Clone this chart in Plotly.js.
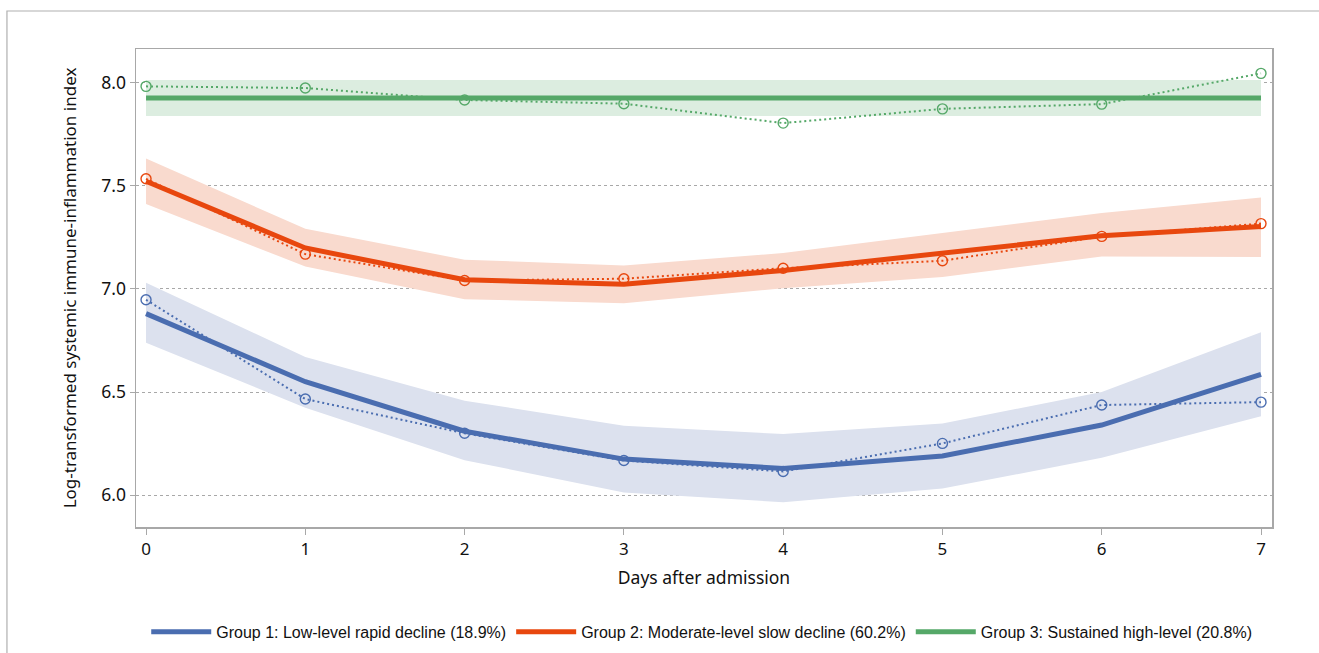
<!DOCTYPE html>
<html>
<head>
<meta charset="utf-8">
<script src="https://cdn.plot.ly/plotly-3.0.1.min.js"></script>
<style>
html,body{margin:0;padding:0;background:#fff;}
#chart{width:1319px;height:653px;}
</style>
</head>
<body>
<div id="chart"></div>
<script>
// ---- data ----
const days = [0, 1, 2, 3, 4, 5, 6, 7];

const g1Name = "Group 1: Low-level rapid decline (18.9%)";
const g1Fitted   = [6.88, 6.55, 6.31, 6.175, 6.13, 6.19, 6.34, 6.585];
const g1Observed = [6.947, 6.466, 6.30, 6.168, 6.115, 6.251, 6.437, 6.451];
const g1Upper    = [7.03, 6.67, 6.458, 6.337, 6.296, 6.348, 6.50, 6.79];
const g1Lower    = [6.739, 6.424, 6.17, 6.013, 5.966, 6.032, 6.181, 6.383];

const g2Name = "Group 2: Moderate-level slow decline (60.2%)";
const g2Fitted   = [7.521, 7.198, 7.044, 7.022, 7.089, 7.17, 7.257, 7.302];
const g2Observed = [7.533, 7.168, 7.04, 7.049, 7.10, 7.136, 7.254, 7.316];
const g2Upper    = [7.631, 7.291, 7.141, 7.113, 7.173, 7.27, 7.367, 7.443];
const g2Lower    = [7.411, 7.108, 6.95, 6.93, 7.003, 7.057, 7.157, 7.154];

const g3Name = "Group 3: Sustained high-level (20.8%)";
const g3Fitted   = [7.925, 7.925, 7.925, 7.925, 7.925, 7.925, 7.925, 7.925];
const g3Observed = [7.981, 7.973, 7.915, 7.897, 7.803, 7.872, 7.895, 8.044];
const g3Upper    = [8.012, 8.012, 8.012, 8.012, 8.012, 8.012, 8.012, 8.012];
const g3Lower    = [7.837, 7.837, 7.837, 7.837, 7.837, 7.837, 7.837, 7.837];

const yTicks = [6.0, 6.5, 7.0, 7.5, 8.0];
const yTickText = ["6.0", "6.5", "7.0", "7.5", "8.0"];

// ---- styles ----
const groups = [
  {name: g1Name, fit: g1Fitted, obs: g1Observed, up: g1Upper, lo: g1Lower, color: "#4a6db0", band: "#dce1ee"},
  {name: g2Name, fit: g2Fitted, obs: g2Observed, up: g2Upper, lo: g2Lower, color: "#e8470e", band: "#f9dace"},
  {name: g3Name, fit: g3Fitted, obs: g3Observed, up: g3Upper, lo: g3Lower, color: "#55a868", band: "#dcede0"}
];

const traces = [];
groups.forEach(g => {
  traces.push({x: days, y: g.lo, mode: "lines", line: {width: 0, color: g.band}, showlegend: false, hoverinfo: "skip"});
  traces.push({x: days, y: g.up, mode: "lines", line: {width: 0, color: g.band}, fill: "tonexty", fillcolor: g.band, showlegend: false, hoverinfo: "skip"});
});
groups.forEach(g => {
  traces.push({x: days, y: g.obs, mode: "lines+markers", line: {width: 2, color: g.color, dash: "2px,3px"},
    marker: {symbol: "circle-open", size: 10, color: g.color, line: {width: 1.4, color: g.color}}, showlegend: false});
});
groups.forEach(g => {
  traces.push({x: days, y: g.fit, mode: "lines", name: g.name, line: {width: 5, color: g.color}});
});

const layout = {
  width: 1319, height: 653,
  margin: {l: 136, r: 47, t: 49, b: 126, autoexpand: false},
  paper_bgcolor: "#fff", plot_bgcolor: "#fff",
  font: {family: "Noto Sans, Open Sans, sans-serif", size: 17, color: "#222"},
  xaxis: {
    range: [-0.063, 7.069], tickvals: days, ticktext: days.map(String),
    showgrid: false, zeroline: false, automargin: false,
    showline: true, linecolor: "#a8a8a8", linewidth: 1.5, mirror: true,
    ticks: "outside", ticklen: 6, tickcolor: "#a8a8a8", tickwidth: 1,
    tickfont: {size: 17, color: "#111"},
    title: {text: "Days after admission", font: {size: 17.5, color: "#111"}, standoff: 13}
  },
  yaxis: {
    range: [5.846, 8.162], tickvals: yTicks, ticktext: yTickText,
    showgrid: true, gridcolor: "#a8a8a8", gridwidth: 1, griddash: "3px,3px", zeroline: false, automargin: false,
    showline: true, linecolor: "#a8a8a8", linewidth: 1.5, mirror: true,
    ticks: "outside", ticklen: 5, tickcolor: "#a8a8a8", tickwidth: 1,
    tickfont: {size: 17.5, color: "#111"},
    title: {text: "Log-transformed systemic immune-inflammation index", font: {size: 17, color: "#111"}, standoff: 20}
  },
  legend: {
    orientation: "h", x: 0.498, xanchor: "center", y: -0.184, yanchor: "top",
    font: {family: "Liberation Sans, Arial, sans-serif", size: 16, color: "#111"},
    traceorder: "normal", itemwidth: 60, tracegroupgap: 0
  },
  shapes: [{
    type: "rect", xref: "paper", yref: "paper",
    x0: -0.1136, x1: 1.2, y0: -0.3, y1: 1.0795,
    line: {color: "#b0b0b0", width: 1.2}, fillcolor: "rgba(0,0,0,0)", layer: "below"
  }],
  showlegend: true
};

Plotly.newPlot("chart", traces, layout, {displayModeBar: false, staticPlot: true});
</script>
</body>
</html>
